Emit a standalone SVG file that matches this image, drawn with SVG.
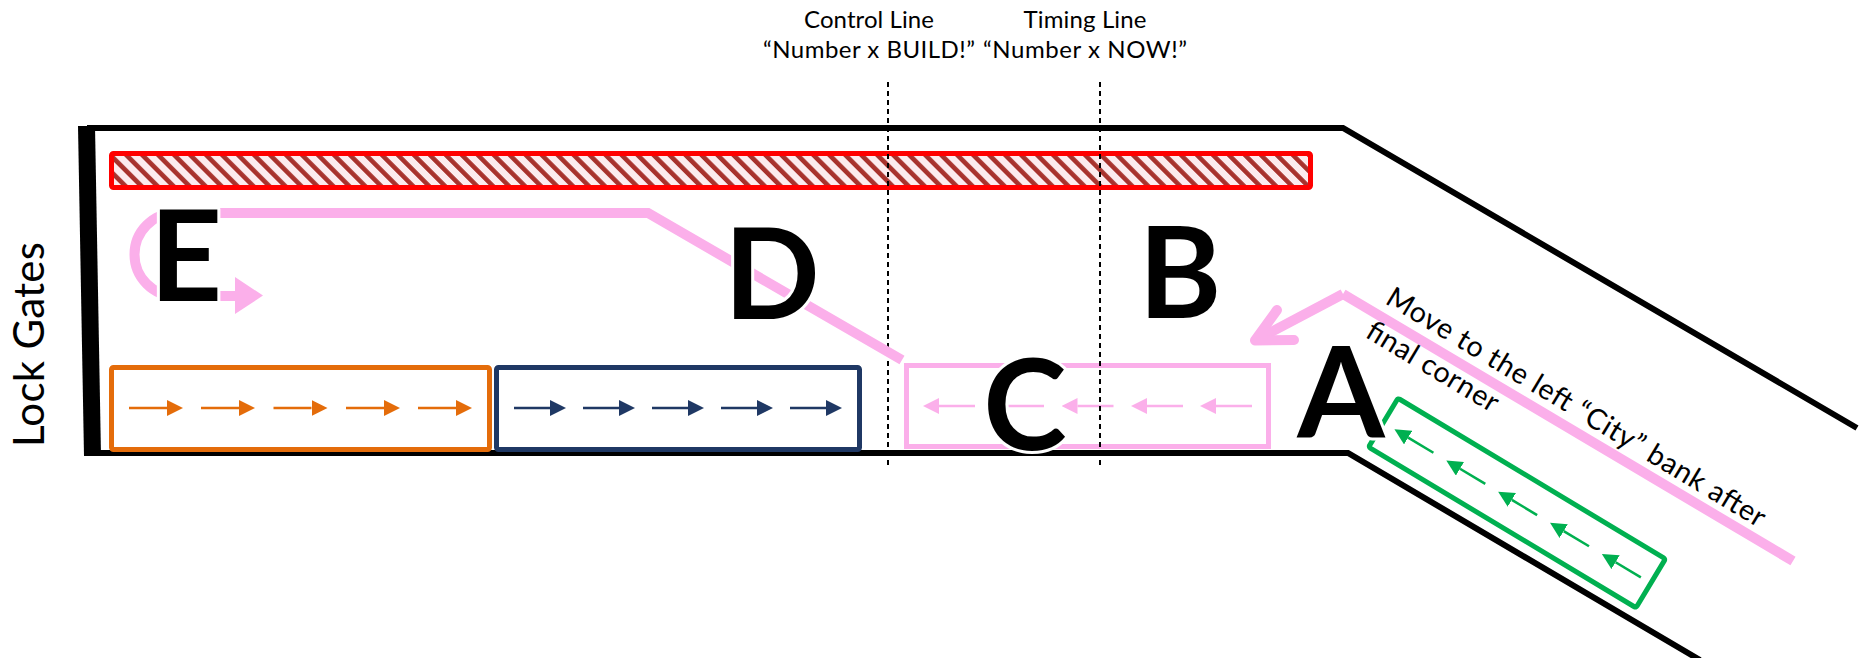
<svg xmlns="http://www.w3.org/2000/svg" width="1864" height="658" viewBox="0 0 1864 658">
<style>
  .wall{fill:none;stroke:#000;stroke-width:6;stroke-linejoin:miter}
  .dash{fill:none;stroke:#000;stroke-width:2;stroke-dasharray:5 4}
  .txt{font-family:Lato,"Open Sans","DejaVu Sans",sans-serif;fill:#000}
  .hdr{font-size:24px;text-anchor:middle}
  .note{font-size:28.7px}
  .big{font-family:Lato,"Open Sans","DejaVu Sans",sans-serif;font-weight:700;font-size:126px;text-anchor:middle;fill:#000;stroke:#fff;stroke-width:6;paint-order:stroke;stroke-linejoin:round}
  .pink{fill:none;stroke:#FBAFEA;stroke-width:10}
  .box{fill:none;stroke-width:5}
  .a-or{stroke:#E46C0A;stroke-width:2.5;marker-end:url(#hOr)}
  .a-nv{stroke:#1F3864;stroke-width:2.5;marker-end:url(#hNv)}
  .a-pk{stroke:#FBAFEA;stroke-width:2.5;marker-end:url(#hPk)}
  .a-gr{stroke:#00B050;stroke-width:2.5;marker-end:url(#hGr)}
</style>
<defs>
  <pattern id="hatch" patternUnits="userSpaceOnUse" width="11.3" height="11.3" patternTransform="rotate(-45)">
    <rect x="0" y="0" width="11.3" height="11.3" fill="#FCEBEE"/>
    <rect x="0" y="0" width="4.6" height="11.3" fill="#A8322D"/>
  </pattern>
  <marker id="hOr" markerUnits="userSpaceOnUse" viewBox="0 0 16 16" markerWidth="16" markerHeight="16" refX="0" refY="8" orient="auto"><path d="M0,0 L16,8 L0,16 z" fill="#E46C0A"/></marker>
  <marker id="hNv" markerUnits="userSpaceOnUse" viewBox="0 0 16 16" markerWidth="16" markerHeight="16" refX="0" refY="8" orient="auto"><path d="M0,0 L16,8 L0,16 z" fill="#1F3864"/></marker>
  <marker id="hPk" markerUnits="userSpaceOnUse" viewBox="0 0 16 16" markerWidth="16" markerHeight="16" refX="0" refY="8" orient="auto"><path d="M0,0 L16,8 L0,16 z" fill="#FBAFEA"/></marker>
  <marker id="hGr" markerUnits="userSpaceOnUse" viewBox="0 0 16 16" markerWidth="16" markerHeight="16" refX="0" refY="8" orient="auto"><path d="M0,0 L16,8 L0,16 z" fill="#00B050"/></marker>
</defs>

<g id="walls">
  <path class="wall" d="M87,128 H1343 L1857,428"/>
  <path class="wall" d="M84,453 H1348 L1700,660"/>
  <polygon points="78,126 95,126 101,456 84,456" fill="#000"/>
</g>

<g id="barrier">
  <rect x="111.5" y="153.5" width="1199" height="34" rx="2" fill="url(#hatch)" stroke="#FF0000" stroke-width="5"/>
</g>

<g id="zone-orange">
  <rect class="box" x="111.5" y="367.5" width="378" height="82" rx="2" stroke="#E46C0A"/>
  <line class="a-or" x1="129" y1="408" x2="167" y2="408"/>
  <line class="a-or" x1="201" y1="408" x2="239" y2="408"/>
  <line class="a-or" x1="273.5" y1="408" x2="311.5" y2="408"/>
  <line class="a-or" x1="346" y1="408" x2="384" y2="408"/>
  <line class="a-or" x1="418" y1="408" x2="456" y2="408"/>
</g>

<g id="zone-navy">
  <rect class="box" x="496.5" y="367.5" width="363" height="82" rx="2" stroke="#1F3864"/>
  <line class="a-nv" x1="514" y1="408" x2="550" y2="408"/>
  <line class="a-nv" x1="583" y1="408" x2="619" y2="408"/>
  <line class="a-nv" x1="652" y1="408" x2="688" y2="408"/>
  <line class="a-nv" x1="721" y1="408" x2="757" y2="408"/>
  <line class="a-nv" x1="790" y1="408" x2="826" y2="408"/>
</g>

<g id="zone-pink">
  <rect class="box" x="906.5" y="365.5" width="362" height="81" stroke="#FBAFEA"/>
  <line class="a-pk" x1="975" y1="406" x2="939" y2="406"/>
  <line class="a-pk" x1="1044" y1="406" x2="1008" y2="406"/>
  <line class="a-pk" x1="1113.5" y1="406" x2="1077.5" y2="406"/>
  <line class="a-pk" x1="1183" y1="406" x2="1147" y2="406"/>
  <line class="a-pk" x1="1252" y1="406" x2="1216" y2="406"/>
</g>

<g id="lines">
  <line class="dash" x1="888" y1="82" x2="888" y2="466"/>
  <line class="dash" x1="1100" y1="82" x2="1100" y2="466"/>
</g>

<g id="connectors">
  <path class="pink" d="M902,360 L648,213 L176,213 A41.5,41.5 0 0 0 176,296 L237,296"/>
  <polygon points="235,277 263,295.5 235,314" fill="#FBAFEA"/>
  <path class="pink" d="M1343,294 L1793,561"/>
  <path class="pink" d="M1343,294 L1256,340"/>
  <polyline class="pink" points="1277,310 1255,340.5 1294,340" stroke-linecap="round" stroke-linejoin="round"/>
</g>

<g id="zone-green" transform="translate(1517,503) rotate(31)">
  <rect class="box" x="-156" y="-28.5" width="312" height="57" rx="2" stroke="#00B050"/>
  <line class="a-gr" x1="-97.5" y1="0" x2="-127" y2="0"/>
  <line class="a-gr" x1="-37" y1="0" x2="-66.5" y2="0"/>
  <line class="a-gr" x1="23.5" y1="0" x2="-6" y2="0"/>
  <line class="a-gr" x1="84" y1="0" x2="54.5" y2="0"/>
  <line class="a-gr" x1="144.5" y1="0" x2="115" y2="0"/>
</g>

<g id="letters">
  <text class="big" x="186" y="301">E</text>
  <text class="big" x="772" y="319">D</text>
  <text class="big" x="1180" y="318">B</text>
  <text class="big" x="1025" y="450">C</text>
  <text class="big" x="1341" y="438">A</text>
</g>

<g id="labels">
  <text class="txt hdr" x="869" y="28" textLength="130">Control Line</text>
  <text class="txt hdr" x="869" y="58" textLength="212">“Number x BUILD!”</text>
  <text class="txt hdr" x="1085" y="28" textLength="123">Timing Line</text>
  <text class="txt hdr" x="1085" y="58" textLength="204">“Number x NOW!”</text>
  <text class="txt" font-size="42" transform="translate(44,447) rotate(-90)" textLength="205">Lock Gates</text>
  <g transform="translate(1384,303) rotate(31)">
    <text class="txt note" x="0" y="0" textLength="437">Move to the left “City” bank after</text>
    <text class="txt note" x="0" y="39" textLength="149">final corner</text>
  </g>
</g>
</svg>
